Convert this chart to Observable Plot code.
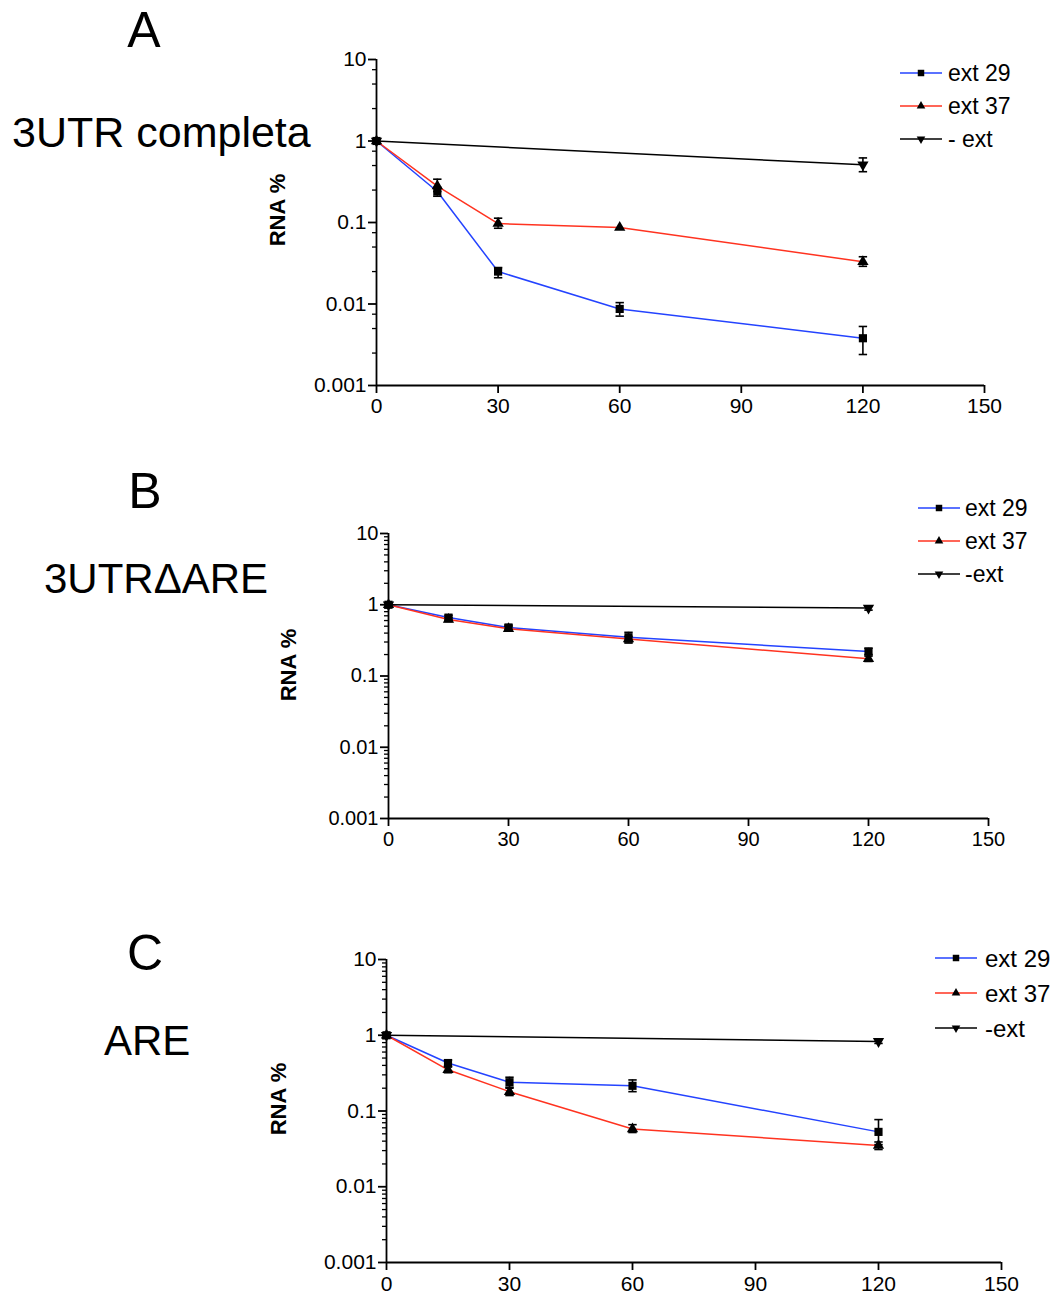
<!DOCTYPE html>
<html>
<head>
<meta charset="utf-8">
<script src="https://cdn.jsdelivr.net/npm/d3@7"></script>
<script src="https://cdn.jsdelivr.net/npm/@observablehq/plot@0.6"></script>
<style>
  html, body { margin: 0; padding: 0; background: #fff; }
  #root { position: relative; width: 1057px; height: 1295px; overflow: hidden; font-family: "Liberation Sans", Arial, Helvetica, sans-serif; }
  #root > svg, #root > div { position: absolute; left: 0; }
</style>
</head>
<body>
<div id="root"></div>
<script>
// ---------------- data ----------------
const times = [0, 15, 30, 60, 120];
const negTimes = [0, 120];
const xTicks = [0, 30, 60, 90, 120, 150];
const yTicks = [0.001, 0.01, 0.1, 1, 10];
const yTickLabels = ["0.001", "0.01", "0.1", "1", "10"];
const minorA = [2.5, 5, 7.5];
const minorBC = [2, 3, 4, 5, 6, 7, 8, 9];
const seriesNames = ["ext 29", "ext 37", "-ext"];
const seriesColors = ["#2443ff", "#ff3320", "#000000"];

// Panel A: 3UTR completa
const A_ext29 = [1, 0.24, 0.025, 0.0087, 0.0038];
const A_ext29_lo = [null, 0.21, 0.021, 0.0071, 0.0024];
const A_ext29_hi = [null, 0.27, 0.028, 0.0104, 0.0053];
const A_ext37 = [1, 0.28, 0.097, 0.087, 0.033];
const A_ext37_lo = [null, 0.24, 0.085, null, 0.029];
const A_ext37_hi = [null, 0.34, 0.113, null, 0.038];
const A_neg = [1, 0.51];
const A_neg_lo = [null, 0.42];
const A_neg_hi = [null, 0.62];
const A_legend = ["ext 29", "ext 37", "- ext"];

// Panel B: 3UTRΔARE
const B_ext29 = [1, 0.66, 0.48, 0.35, 0.22];
const B_ext29_lo = [null, 0.61, 0.44, 0.29, 0.2];
const B_ext29_hi = [null, 0.71, 0.52, 0.41, 0.245];
const B_ext37 = [1, 0.62, 0.46, 0.33, 0.175];
const B_ext37_lo = [null, 0.58, 0.43, 0.3, 0.16];
const B_ext37_hi = [null, 0.66, 0.5, 0.36, 0.19];
const B_neg = [1, 0.9];
const B_neg_lo = [null, 0.84];
const B_neg_hi = [null, 0.96];
const B_legend = ["ext 29", "ext 37", "-ext"];

// Panel C: ARE
const C_ext29 = [1, 0.43, 0.24, 0.215, 0.053];
const C_ext29_lo = [null, 0.39, 0.206, 0.18, 0.036];
const C_ext29_hi = [null, 0.47, 0.279, 0.257, 0.077];
const C_ext37 = [1, 0.35, 0.18, 0.058, 0.035];
const C_ext37_lo = [null, 0.32, 0.16, 0.052, 0.031];
const C_ext37_hi = [null, 0.38, 0.2, 0.066, 0.039];
const C_neg = [1, 0.83];
const C_neg_lo = [null, 0.78];
const C_neg_hi = [null, 0.88];
const C_legend = ["ext 29", "ext 37", "-ext"];

// ---------------- helpers ----------------
function rowsOf(name, ts, vals, lo, hi) {
  return ts.map((t, i) => ({series: name, t, v: vals[i], lo: lo[i], hi: hi[i]}));
}
const capSymbol = {
  draw(ctx, size) {
    const r = Math.sqrt(size / Math.PI);
    ctx.moveTo(-r, 0);
    ctx.lineTo(r, 0);
  }
};
const FONT = '"Liberation Sans", Arial, Helvetica, sans-serif';

function panel(cfg) {
  const rows = [
    ...rowsOf(seriesNames[0], times, cfg.ext29, cfg.ext29_lo, cfg.ext29_hi),
    ...rowsOf(seriesNames[1], times, cfg.ext37, cfg.ext37_lo, cfg.ext37_hi),
    ...rowsOf(seriesNames[2], negTimes, cfg.neg, cfg.neg_lo, cfg.neg_hi)
  ];
  const err = rows.filter(d => d.lo != null && d.hi != null);
  const minor = [];
  for (const dec of [0.001, 0.01, 0.1, 1]) for (const m of cfg.minor) minor.push(dec * m);
  const labelOf = d => yTickLabels[yTicks.indexOf(d)];
  const axisW = 1.8;
  return Plot.plot({
    width: 1057,
    height: cfg.height,
    marginLeft: cfg.x0,
    marginRight: 1057 - cfg.x1,
    marginTop: cfg.mt,
    marginBottom: cfg.mb,
    style: {fontFamily: FONT, fontSize: cfg.fs + "px", color: "#000", background: "transparent", overflow: "visible"},
    x: {domain: [0, 150]},
    y: {type: "log", domain: [0.001, 10]},
    color: {domain: seriesNames, range: seriesColors},
    marks: [
      Plot.axisY({ticks: minor, tickSize: 4, tickFormat: () => "", label: null, strokeWidth: 1.3}),
      Plot.axisY({ticks: yTicks, tickSize: 8, tickPadding: 2, tickFormat: labelOf, label: null, fontSize: cfg.fs, strokeWidth: axisW}),
      Plot.axisX({ticks: xTicks, tickSize: 8, tickPadding: cfg.xpad, tickFormat: d => String(d), label: null, fontSize: cfg.fs, strokeWidth: axisW}),
      Plot.ruleX([0], {stroke: "#000", strokeWidth: axisW}),
      Plot.ruleY([0.001], {stroke: "#000", strokeWidth: axisW}),
      Plot.line(rows, {x: "t", y: "v", z: "series", stroke: "series", strokeWidth: 1.5}),
      Plot.ruleX(err, {x: "t", y1: "lo", y2: "hi", stroke: "#000", strokeWidth: 1.6}),
      Plot.dot(err, {x: "t", y: "lo", symbol: capSymbol, r: 4.2, stroke: "#000", fill: "none", strokeWidth: 1.6}),
      Plot.dot(err, {x: "t", y: "hi", symbol: capSymbol, r: 4.2, stroke: "#000", fill: "none", strokeWidth: 1.6}),
      Plot.dot(rows, {filter: d => d.series === seriesNames[0], x: "t", y: "v", symbol: "square", r: 4.6, fill: "#000", stroke: "none"}),
      Plot.dot(rows, {filter: d => d.series === seriesNames[1], x: "t", y: "v", symbol: "triangle", r: 4.2, fill: "#000", stroke: "none"}),
      Plot.dot(rows, {filter: d => d.series === seriesNames[2], x: "t", y: "v", symbol: "triangle", r: 4.2, rotate: 180, fill: "#000", stroke: "none"})
    ]
  });
}

const root = document.getElementById("root");
const panels = [
  {top: 40, height: 385, mt: 19, mb: 40, x0: 376, x1: 984, fs: 21, xpad: 5, minor: minorA,
   ext29: A_ext29, ext29_lo: A_ext29_lo, ext29_hi: A_ext29_hi,
   ext37: A_ext37, ext37_lo: A_ext37_lo, ext37_hi: A_ext37_hi,
   neg: A_neg, neg_lo: A_neg_lo, neg_hi: A_neg_hi},
  {top: 513, height: 345, mt: 20, mb: 40, x0: 388, x1: 988, fs: 20, xpad: 5, minor: minorBC,
   ext29: B_ext29, ext29_lo: B_ext29_lo, ext29_hi: B_ext29_hi,
   ext37: B_ext37, ext37_lo: B_ext37_lo, ext37_hi: B_ext37_hi,
   neg: B_neg, neg_lo: B_neg_lo, neg_hi: B_neg_hi},
  {top: 939, height: 356, mt: 20, mb: 33, x0: 386, x1: 1001, fs: 21, xpad: 6, minor: minorBC,
   ext29: C_ext29, ext29_lo: C_ext29_lo, ext29_hi: C_ext29_hi,
   ext37: C_ext37, ext37_lo: C_ext37_lo, ext37_hi: C_ext37_hi,
   neg: C_neg, neg_lo: C_neg_lo, neg_hi: C_neg_hi}
];
for (const p of panels) {
  const svg = panel(p);
  svg.style.position = "absolute";
  svg.style.top = p.top + "px";
  svg.style.left = "0px";
  root.appendChild(svg);
}

// ---------------- overlay: titles, y labels, legends ----------------
const ov = d3.select(root).append("svg")
  .attr("width", 1057).attr("height", 1295)
  .style("position", "absolute").style("top", "0px").style("left", "0px")
  .style("font-family", FONT).style("pointer-events", "none");

const titles = [
  {text: "A", x: 144, y: 47, size: 50, anchor: "middle"},
  {text: "3UTR completa", x: 12, y: 147, size: 43, anchor: "start"},
  {text: "B", x: 145, y: 508, size: 50, anchor: "middle"},
  {text: "3UTRΔARE", x: 44, y: 593, size: 42, anchor: "start"},
  {text: "C", x: 145, y: 970, size: 50, anchor: "middle"},
  {text: "ARE", x: 104, y: 1055, size: 42, anchor: "start"}
];
for (const t of titles) {
  ov.append("text").attr("x", t.x).attr("y", t.y).attr("font-size", t.size)
    .attr("text-anchor", t.anchor).attr("fill", "#000").text(t.text);
}

const ylabels = [{x: 277, y: 210}, {x: 288, y: 665}, {x: 278, y: 1099}];
for (const l of ylabels) {
  ov.append("text").attr("transform", `translate(${l.x},${l.y}) rotate(-90)`)
    .attr("text-anchor", "middle").attr("dominant-baseline", "central")
    .attr("font-size", 22).attr("font-weight", "bold").attr("fill", "#000").text("RNA %");
}

const legends = [
  {labels: A_legend, x0: 900, x1: 942, tx: 948, ys: [73, 106, 139], fs: 23},
  {labels: B_legend, x0: 918, x1: 960, tx: 965, ys: [508, 541, 574], fs: 23},
  {labels: C_legend, x0: 935, x1: 977, tx: 985, ys: [958, 993, 1028], fs: 24}
];
const legSymbols = [
  {sym: d3.symbolSquare, size: 42, rot: 0},
  {sym: d3.symbolTriangle, size: 32, rot: 0},
  {sym: d3.symbolTriangle, size: 32, rot: 180}
];
for (const L of legends) {
  L.labels.forEach((lab, i) => {
    const y = L.ys[i];
    ov.append("line").attr("x1", L.x0).attr("x2", L.x1).attr("y1", y).attr("y2", y)
      .attr("stroke", seriesColors[i]).attr("stroke-width", 1.5);
    ov.append("path").attr("d", d3.symbol(legSymbols[i].sym, legSymbols[i].size)())
      .attr("transform", `translate(${(L.x0 + L.x1) / 2},${y}) rotate(${legSymbols[i].rot})`)
      .attr("fill", "#000");
    ov.append("text").attr("x", L.tx).attr("y", y).attr("dominant-baseline", "central")
      .attr("font-size", L.fs).attr("fill", "#000").text(lab);
  });
}
</script>
</body>
</html>
